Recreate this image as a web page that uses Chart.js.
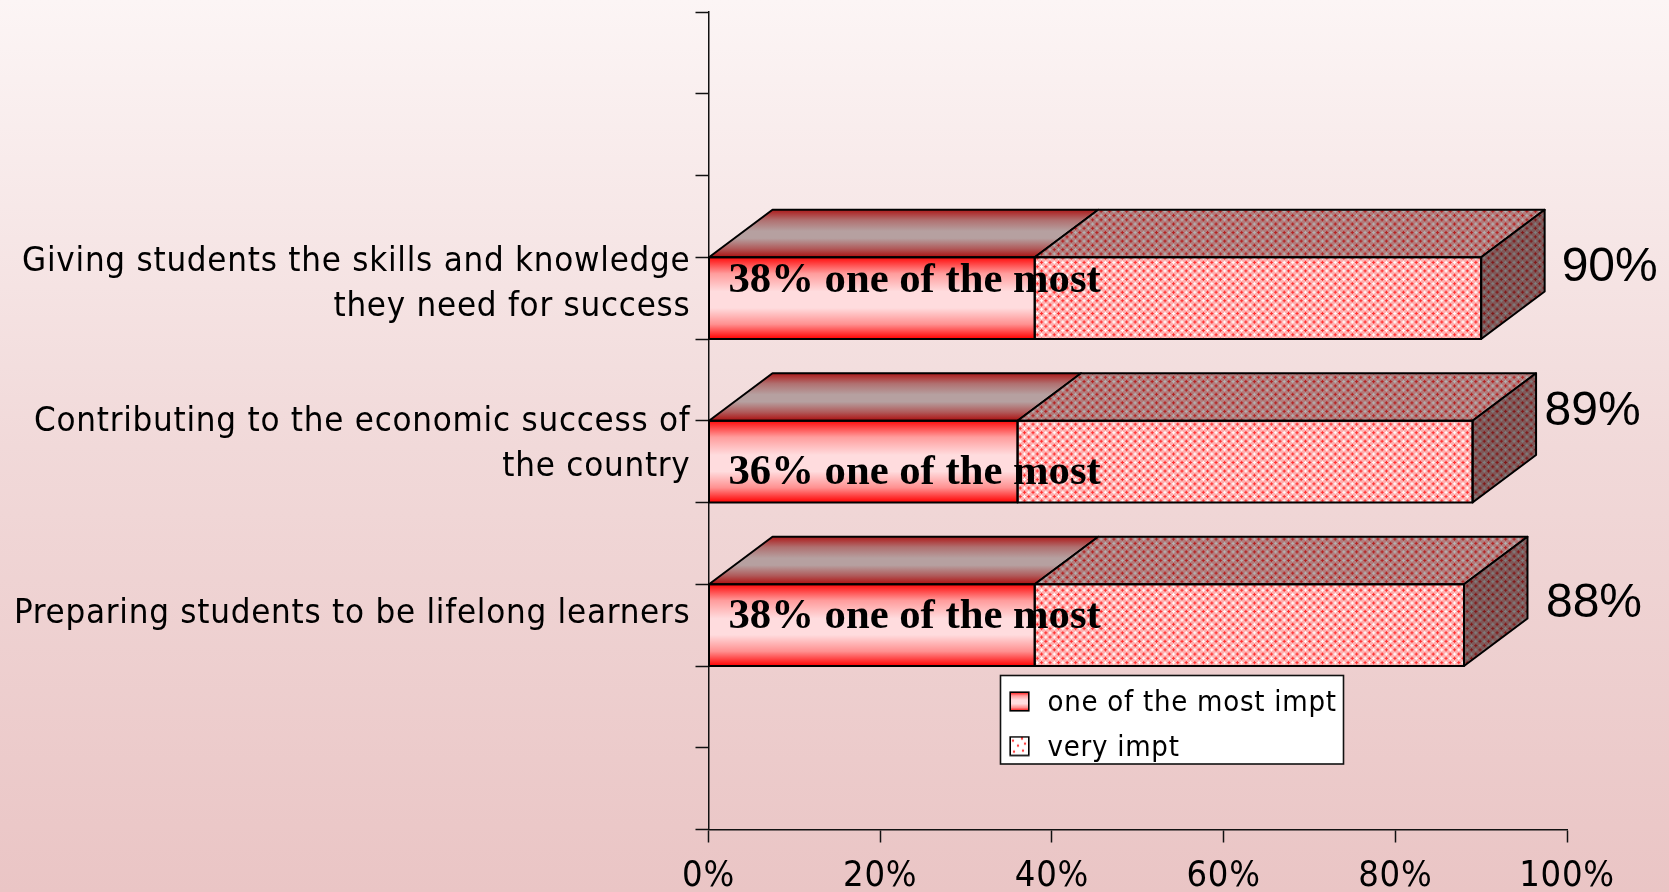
<!DOCTYPE html>
<html><head><meta charset="utf-8">
<style>html,body{margin:0;padding:0;background:#eec9c9;overflow:hidden}canvas{display:block}</style>
<script src="https://cdn.jsdelivr.net/npm/chart.js@4"></script>
</head><body><div style="width:1669px;height:892px;position:relative"><canvas id="c" width="1669" height="892"></canvas></div>
<script>
const categories = ['', '', '', ['Giving students the skills and knowledge','they need for success'], '', ['Contributing to the economic success of','the country'], '', 'Preparing students to be lifelong learners', '', ''];
const seriesNames = ['one of the most impt','very impt'];
const oneOfMost = [null,null,null,38,null,36,null,38,null,null];
const veryImpt  = [null,null,null,52,null,53,null,50,null,null];
const insideText = [null,null,null,'38% one of the most',null,'36% one of the most',null,'38% one of the most',null,null];
const xTicks = [0,20,40,60,80,100];

const FONT = '"DejaVu Sans Condensed","DejaVu Sans",sans-serif';
const SPACING = '0.75px';
const depth = {dx:63.5, dy:47.5};
const insideY = {3:35, 5:63, 7:44};
const totalPos = {3:[80.5,24], 5:[72,4.5], 7:[82,32.5]};
const labelNudge = {3:-14, 5:-17, 7:-11};

function makeTile(){
  const t=document.createElement('canvas');t.width=8;t.height=8;const g=t.getContext('2d');
  g.fillStyle='#ffb0b0';g.fillRect(0,0,8,8);
  const plus=(x,y,c)=>{g.fillStyle=c;[[0,0],[1,0],[-1,0],[0,1],[0,-1]].forEach(([a,b])=>g.fillRect((x+a+8)%8,(y+b+8)%8,1,1));};
  plus(2,2,'#ffffff');plus(6,6,'#ffffff');plus(6,2,'#ff3030');plus(2,6,'#ff3030');
  return t;
}
const c=document.getElementById('c');const ctx0=c.getContext('2d');
const pattern=ctx0.createPattern(makeTile(),'repeat');
pattern.setTransform(new DOMMatrix().scale(1.0644));

function frontGrad(ctx,top,bottom){
  const g=ctx.createLinearGradient(0,top,0,bottom);
  g.addColorStop(0,'#ff0a0a');g.addColorStop(.2,'#ff9c9c');g.addColorStop(.42,'#ffdcde');g.addColorStop(.62,'#ffdcde');g.addColorStop(.82,'#ff9090');g.addColorStop(1,'#ff0000');
  return g;
}
function topGrad(ctx,top,bottom){
  const g=ctx.createLinearGradient(0,top,0,bottom);
  g.addColorStop(0,'#ad1a1a');g.addColorStop(.22,'#b07070');g.addColorStop(.45,'#b6a0a0');g.addColorStop(.6,'#b6a0a0');g.addColorStop(.82,'#b05a5a');g.addColorStop(1,'#ad0f0f');
  return g;
}
function swatch(fill){
  const s=document.createElement('canvas');s.width=21;s.height=25;const g=s.getContext('2d');
  fill(g);g.strokeStyle='#000';g.lineWidth=1.6;g.strokeRect(1.2,1.2,18.6,18.6);return s;
}
const swatch1=swatch(g=>{g.fillStyle=frontGrad(g,1,20);g.fillRect(1,1,19,19);});
const swatch2=swatch(g=>{g.fillStyle='#fff';g.fillRect(1,1,19,19);g.fillStyle='#ff4040';[[4,5],[13,3],[9,10],[16,8],[5,16],[14,15]].forEach(([x,y])=>{g.beginPath();g.arc(x,y,1.2,0,7);g.fill();});});

function poly(ctx,pts,fill,overlay){
  ctx.beginPath();pts.forEach((p,i)=>i?ctx.lineTo(p[0],p[1]):ctx.moveTo(p[0],p[1]));ctx.closePath();
  ctx.fillStyle=fill;ctx.fill();
  if(overlay){ctx.fillStyle=overlay;ctx.fill();}
  ctx.lineWidth=2;ctx.strokeStyle='#000';ctx.lineJoin='round';ctx.stroke();
}
const box3d={
  id:'box3d',
  beforeDraw(chart){
    const {ctx,width,height}=chart;
    const g=ctx.createLinearGradient(0,0,0,height);
    g.addColorStop(0,'#fcf5f5');g.addColorStop(.5,'#f1d9d9');g.addColorStop(1,'#eac5c5');
    ctx.save();ctx.fillStyle=g;ctx.fillRect(0,0,width,height);ctx.restore();
    ctx.letterSpacing=SPACING;
    const L=chart.legend;
    const pad=L.options.labels.padding;
    L.left=1006-pad;L.top=689-pad;L.right=1344;L.bottom=790;
    ctx.save();ctx.fillStyle='#fff';ctx.fillRect(1000.5,675.5,343,88.5);
    ctx.strokeStyle='#111';ctx.lineWidth=1.6;ctx.strokeRect(1000.5,675.5,343,88.5);ctx.restore();
    chart.scales.y.getLabelItems().forEach(it=>{
      const i=categories.indexOf(it.label);
      if(i>=0&&labelNudge[i]!==undefined&&!it._n){it.options.translation[1]+=labelNudge[i];it._n=true;}
    });
  },
  afterDatasetsDraw(chart){
    const {ctx}=chart;const m0=chart.getDatasetMeta(0).data,m1=chart.getDatasetMeta(1).data;
    const {dx,dy}=depth;
    ctx.save();
    m0.forEach((a,i)=>{
      const b=m1[i];
      if(oneOfMost[i]===null) return;
      const top=a.y-a.height/2,bot=a.y+a.height/2;
      poly(ctx,[[a.base,top],[a.base+dx,top-dy],[a.x+dx,top-dy],[a.x,top]],topGrad(ctx,top-dy,top));
      poly(ctx,[[a.x,top],[a.x+dx,top-dy],[b.x+dx,top-dy],[b.x,top]],pattern,'rgba(0,0,0,.3)');
      poly(ctx,[[b.x,top],[b.x+dx,top-dy],[b.x+dx,bot-dy],[b.x,bot]],pattern,'rgba(0,0,0,.5)');
      ctx.lineWidth=2;ctx.strokeStyle='#000';
      ctx.strokeRect(a.base,top,a.x-a.base,a.height);
      ctx.strokeRect(a.x,top,b.x-a.x,a.height);
    });
    ctx.letterSpacing='0px';ctx.fillStyle='#000';ctx.textAlign='left';ctx.textBaseline='alphabetic';
    m0.forEach((a,i)=>{
      if(oneOfMost[i]===null) return;
      const b=m1[i],top=a.y-a.height/2;
      ctx.font='bold 42.7px "Liberation Serif"';
      ctx.fillText(insideText[i],a.base+19.5,top+insideY[i]);
      ctx.font='48px "Liberation Sans"';
      ctx.fillText((oneOfMost[i]+veryImpt[i])+'%',b.x+totalPos[i][0],top+totalPos[i][1]);
    });
    ctx.restore();
    ctx.letterSpacing=SPACING;
  }
};
new Chart(c,{
  type:'bar',
  plugins:[box3d],
  data:{labels:categories,datasets:[
    {label:seriesNames[0],data:oneOfMost,stack:'s',borderWidth:0,
     backgroundColor(ctx){const {chart,dataIndex}=ctx;if(!chart.chartArea)return '#f66';const y=chart.scales.y,h=y.height/categories.length,m=y.getPixelForValue(dataIndex);return frontGrad(chart.ctx,m-h/2,m+h/2);}},
    {label:seriesNames[1],data:veryImpt,stack:'s',borderWidth:0,backgroundColor:pattern}
  ]},
  options:{
    indexAxis:'y',responsive:false,animation:false,devicePixelRatio:1,
    datasets:{bar:{barPercentage:1,categoryPercentage:1}},
    layout:{padding:{top:12,right:102,left:0,bottom:0}},
    plugins:{
      title:{display:false},tooltip:{enabled:false},
      legend:{
        position:'chartArea',align:'start',
        labels:{
          color:'#000',font:{family:FONT,size:29},padding:15.6,usePointStyle:true,pointStyleWidth:27,boxHeight:21,
          generateLabels(){return seriesNames.map((t,i)=>({text:t,pointStyle:i?swatch2:swatch1,datasetIndex:i,hidden:false,lineWidth:0}));}
        }
      }
    },
    scales:{
      x:{type:'linear',stacked:true,min:0,max:100,position:'bottom',
        afterFit(s){s.height=892-829.5;},
        afterBuildTicks(s){s.ticks=xTicks.map(v=>({value:v}));},
        ticks:{color:'#000',font:{family:FONT,size:36},padding:13,maxRotation:0,callback:v=>v+'%'},
        grid:{drawOnChartArea:false,tickLength:13,tickColor:'#111',tickWidth:1.5},
        border:{color:'#111',width:1.5}},
      y:{type:'category',stacked:true,offset:true,
        afterFit(s){s.width=708.5;s.paddingTop=0;s.paddingBottom=0;},
        ticks:{color:'#000',autoSkip:false,font:{family:FONT,size:34.6,lineHeight:1.3},padding:5,crossAlign:'near'},
        grid:{offset:true,drawOnChartArea:false,tickLength:13,tickColor:'#111',tickWidth:1.5},
        border:{color:'#111',width:1.5}}
    }
  }
});
</script></body></html>
